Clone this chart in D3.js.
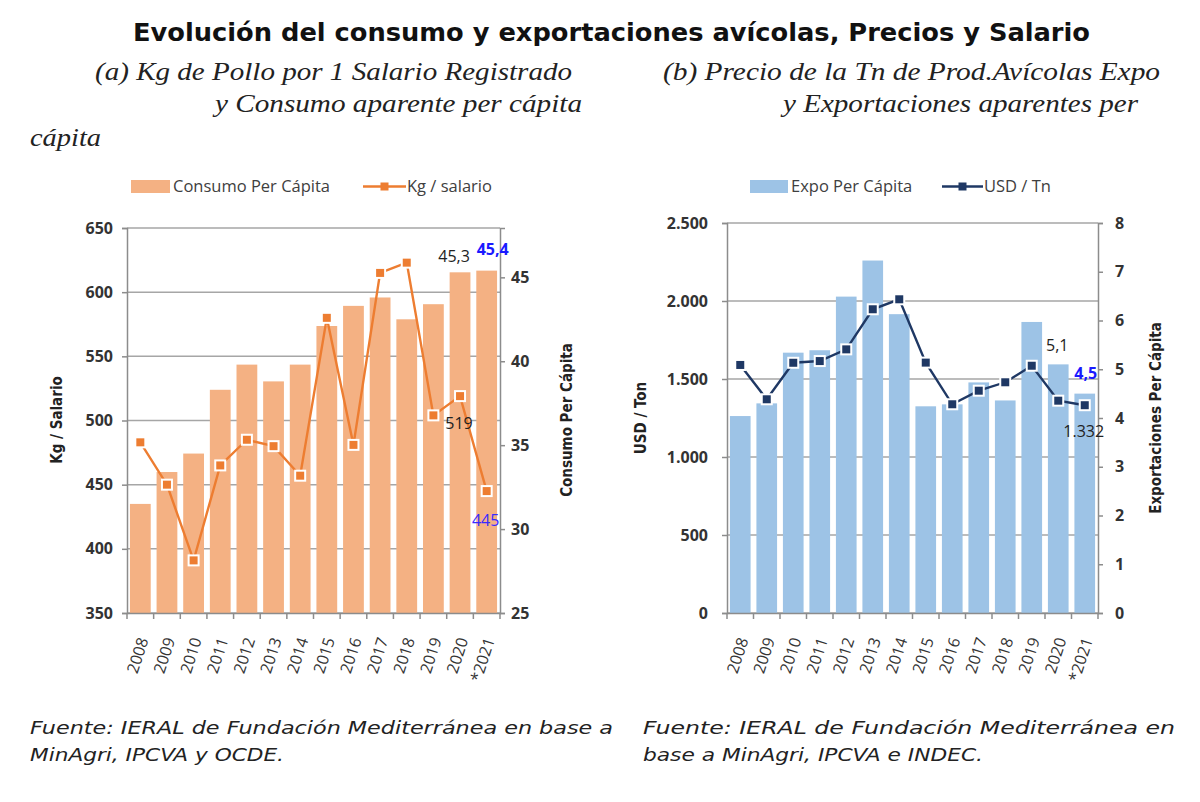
<!DOCTYPE html>
<html><head><meta charset="utf-8">
<script src="https://cdn.jsdelivr.net/npm/d3@7"></script>
<style>body{margin:0;background:#fff}</style>
</head><body>
<svg id="c" width="1200" height="802"></svg>
<script>
const years = ["2008","2009","2010","2011","2012","2013","2014","2015","2016","2017","2018","2019","2020","*2021"];
// Chart (a)
const consumoPerCapita = [31.5,33.4,34.5,38.3,39.8,38.8,39.8,42.1,43.3,43.8,42.5,43.4,45.3,45.4];
const kgSalario = [483,450,391,465,485,480,457,580,481,615,623,504,519,445];
const leftTicksA = [350,400,450,500,550,600,650];
const rightTicksA = [25,30,35,40,45];
// Chart (b)
const expoPerCapita = [4.04,4.30,5.34,5.39,6.49,7.23,6.13,4.24,4.28,4.73,4.36,5.97,5.1,4.5];
const usdTn = [1590,1370,1604,1615,1690,1947,2011,1605,1338,1425,1479,1585,1361,1332];
const leftTicksB = [0,500,1000,1500,2000,2500];
const rightTicksB = [0,1,2,3,4,5,6,7,8];

const svg = d3.select("#c");
const tickFont = "'Open Sans', 'Liberation Sans', sans-serif";
const gridC = "#a6a6a6", axisC = "#8c8c8c", txtC = "#404040";

function fitText(sel, w){ sel.attr("textLength", w).attr("lengthAdjust","spacingAndGlyphs"); }

// Titles
const t = svg.append("text").attr("x",133).attr("y",41)
  .style("font-family","'DejaVu Sans Condensed','DejaVu Sans',sans-serif").style("font-weight","bold").style("font-size","25px").attr("fill","#111")
  .text("Evolución del consumo y exportaciones avícolas, Precios y Salario");
fitText(t, 957);
const serif = "'Liberation Serif','Times New Roman',serif";
const subs = [
  ["(a) Kg de Pollo por 1 Salario Registrado",95,80,477],
  ["y Consumo aparente per cápita",215,112,367],
  ["cápita",30,146,71],
  ["(b) Precio de la Tn de Prod.Avícolas Expo",663,80,497],
  ["y Exportaciones aparentes per",783,112,355]
];
subs.forEach(s=>{
  const e = svg.append("text").attr("x",s[1]).attr("y",s[2]).style("font-family",serif).style("font-style","italic").style("font-size","26px").attr("fill","#222").text(s[0]);
  fitText(e, s[3]);
});
const foot = "'DejaVu Sans Condensed','DejaVu Sans',sans-serif";
const feet = [
  ["Fuente: IERAL de Fundación Mediterránea en base a",30,734,583],
  ["MinAgri, IPCVA y OCDE.",30,761,254],
  ["Fuente: IERAL de Fundación Mediterránea en",643,734,532],
  ["base a MinAgri, IPCVA e INDEC.",643,761,340]
];
feet.forEach(s=>{
  const e = svg.append("text").attr("x",s[1]).attr("y",s[2]).style("font-family",foot).style("font-style","italic").style("font-size","18px").attr("fill","#222").text(s[0]);
  fitText(e, s[3]);
});

function drawChart(o){
  const g = svg.append("g");
  const x = d3.scaleBand().domain(years).range([o.x0,o.x1]).paddingInner(0.22).paddingOuter(0.11);
  const xb = d3.scaleBand().domain(years).range([o.x0,o.x1]);
  const yL = d3.scaleLinear().domain(o.lDom).range([o.yBot,o.yTop]);
  const yR = d3.scaleLinear().domain(o.rDom).range([o.yBot,o.yTop]);
  // gridlines
  g.selectAll(".grid").data(o.lTicks).join("line")
    .attr("x1",o.x0).attr("x2",o.x1).attr("y1",d=>yL(d)).attr("y2",d=>yL(d))
    .attr("stroke",gridC).attr("stroke-width",1.5);
  // bars (right axis)
  g.selectAll(".bar").data(o.bars).join("rect")
    .attr("x",(d,i)=>x(years[i])).attr("width",x.bandwidth())
    .attr("y",d=>yR(d)).attr("height",d=>o.yBot-yR(d)).attr("fill",o.barC);
  // axes
  const axL = g.append("g").attr("transform",`translate(${o.x0},0)`)
    .call(d3.axisLeft(yL).tickValues(o.lTicks).tickFormat(o.lFmt).tickSize(5).tickPadding(o.lPad));
  const axR = g.append("g").attr("transform",`translate(${o.x1},0)`)
    .call(d3.axisRight(yR).tickValues(o.rTicks).tickFormat(o.rFmt).tickSize(5).tickPadding(o.rPad));
  const axB = g.append("g").attr("transform",`translate(0,${o.yBot})`)
    .call(d3.axisBottom(xb).tickSize(0));
  // boundary ticks on x axis
  const bounds = years.map(y=>xb(y)).concat([o.x1]);
  g.selectAll(".xt").data(bounds).join("line").attr("x1",d=>d).attr("x2",d=>d)
    .attr("y1",o.yBot).attr("y2",o.yBot+6).attr("stroke",axisC).attr("stroke-width",1.5);
  [axL,axR,axB].forEach(a=>{
    a.selectAll("path.domain").attr("stroke",axisC).attr("stroke-width",1.5);
    a.selectAll(".tick line").attr("stroke",axisC).attr("stroke-width",1.5);
    a.selectAll("text").style("font-family",tickFont).style("font-size","16px").attr("fill",txtC);
  });
  axB.selectAll(".tick text").attr("text-anchor","end").attr("x",0).attr("y",0).attr("dy","0.35em")
    .attr("transform","translate(3,25) rotate(-72)").style("font-size","16px").attr("fill","#333");
  axR.selectAll(".tick text").style("font-weight","bold").attr("fill","#333");
  axL.selectAll(".tick text").style("font-weight","bold").attr("fill","#333");
  // line (left axis)
  const cx = (d,i)=>xb(years[i])+xb.bandwidth()/2;
  const line = d3.line().x(cx).y(d=>yL(d));
  g.append("path").datum(o.line).attr("d",line).attr("fill","none").attr("stroke",o.lineC).attr("stroke-width",2.4);
  g.selectAll(".mk").data(o.line).join("rect")
    .attr("x",(d,i)=>cx(d,i)-5).attr("y",d=>yL(d)-5).attr("width",10).attr("height",10)
    .attr("fill",o.lineC).attr("stroke","#fff").attr("stroke-width",2);
  // axis titles
  const tf = "'DejaVu Sans Condensed','DejaVu Sans',sans-serif";
  g.append("text").attr("transform",`translate(${o.ltX},${o.titleY}) rotate(-90)`).attr("text-anchor","middle")
    .style("font-family",tf).style("font-weight","bold").style("font-size","15px").attr("fill","#222").text(o.lTitle);
  g.append("text").attr("transform",`translate(${o.rtX},${o.titleY}) rotate(-90)`).attr("text-anchor","middle")
    .style("font-family",tf).style("font-weight","bold").style("font-size","15px").attr("fill","#222").text(o.rTitle);
  // legend
  const lg = g.append("g").style("font-family",tickFont).style("font-size","16.5px");
  lg.append("rect").attr("x",o.legX).attr("y",180).attr("width",o.swW).attr("height",13).attr("fill",o.barC);
  lg.append("text").attr("x",o.legX+o.swW+3).attr("y",192).attr("fill",txtC).text(o.barName);
  lg.append("line").attr("x1",o.leg2X).attr("x2",o.leg2X+o.leg2W).attr("y1",186.5).attr("y2",186.5).attr("stroke",o.lineC).attr("stroke-width",2.4);
  lg.append("rect").attr("x",o.leg2X+o.leg2W/2-4).attr("y",182.5).attr("width",8).attr("height",8).attr("fill",o.lineC);
  lg.append("text").attr("x",o.leg2X+o.leg2W+1).attr("y",192).attr("fill",txtC).text(o.lineName);
  return {g,x,xb,yL,yR};
}

const A = drawChart({x0:127,x1:500,yTop:228,yBot:613,lDom:[350,650],rDom:[25,47.94],
  lTicks:leftTicksA,rTicks:rightTicksA,lFmt:d3.format("d"),rFmt:d3.format("d"),lPad:9,rPad:6,
  bars:consumoPerCapita,line:kgSalario,barC:"#f4b183",lineC:"#ed7d31",
  lTitle:"Kg / Salario",rTitle:"Consumo Per  Cápita",ltX:62,rtX:572,titleY:420,
  legX:131,swW:39,barName:"Consumo Per Cápita",leg2X:363,leg2W:43,lineName:"Kg / salario"});

const fmtDot = d=>d3.format(",")(d).replace(/,/g,".");
const B = drawChart({x0:727,x1:1098,yTop:223,yBot:613,lDom:[0,2500],rDom:[0,8],
  lTicks:leftTicksB,rTicks:rightTicksB,lFmt:fmtDot,rFmt:d3.format("d"),lPad:14,rPad:12,
  bars:expoPerCapita,line:usdTn,barC:"#9dc3e6",lineC:"#1f3864",
  lTitle:"USD / Ton",rTitle:"Exportaciones Per Cápita",ltX:646,rtX:1161,titleY:418,
  legX:750,swW:38,barName:"Expo Per Cápita",leg2X:942,leg2W:41,lineName:"USD / Tn"});

// data labels
const lf = "'Open Sans','Liberation Sans',sans-serif";
function lab(ch, i, v, dx, dy, txt, col, bold){
  svg.append("text").attr("x",ch.xb(years[i])+ch.xb.bandwidth()/2+dx).attr("y",v+dy)
    .attr("text-anchor","middle").style("font-family",lf).style("font-size","16px")
    .style("font-weight",bold?"bold":"normal").attr("fill",col).text(txt);
}
const fmtComma = d=>d3.format(".1f")(d).replace(".",",");
lab(A,12,A.yR(consumoPerCapita[12]),-6,-10,fmtComma(consumoPerCapita[12]),"#222",false);
lab(A,13,A.yR(consumoPerCapita[13]),6,-16,fmtComma(consumoPerCapita[13]),"#1a1aff",true);
lab(A,12,A.yL(kgSalario[12]),-1,33,d3.format("d")(kgSalario[12]),"#222",false);
lab(A,13,A.yL(kgSalario[13]),-1,35,d3.format("d")(kgSalario[13]),"#3a2aff",false);
lab(B,12,B.yR(expoPerCapita[12]),-1,-13,fmtComma(expoPerCapita[12]),"#222",false);
lab(B,13,B.yR(expoPerCapita[13]),1,-15,fmtComma(expoPerCapita[13]),"#1a1aff",true);
lab(B,13,B.yL(usdTn[13]),-1,32,fmtDot(usdTn[13]),"#222",false);
</script>
</body></html>
